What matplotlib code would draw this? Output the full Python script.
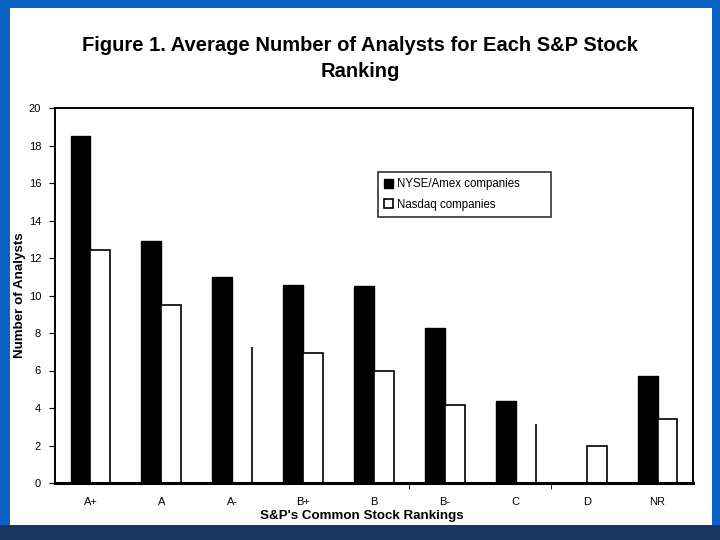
import matplotlib.pyplot as plt
from matplotlib.patches import Rectangle
import numpy as np

plt.rcParams['font.family'] = ['Liberation Sans', 'DejaVu Sans']

rankings = ['A+', 'A', 'A-', 'B+', 'B', 'B-', 'C', 'D', 'NR']
nyse_amex = [18.5, 12.9, 11.0, 10.55, 10.5, 8.25, 4.35, 0.0, 5.7]
nasdaq = [12.45, 9.5, 7.25, 6.95, 5.95, 4.15, 3.15, 2.0, 3.4]
# in the slide these two white bars lost everything but their right edge
faded = ['A-', 'C']

fig = plt.figure(figsize=(7.2, 5.4), dpi=100)
fig.patch.set_facecolor('#0b62c4')
# slide: white card on a blue frame, darker band at the bottom
fig.patches.append(Rectangle((0, 0), 1, 0.028, transform=fig.transFigure,
                             facecolor='#173763', edgecolor='none', zorder=-2))
fig.patches.append(Rectangle((10 / 720, 15 / 540), 702 / 720, 517 / 540,
                             transform=fig.transFigure, facecolor='white',
                             edgecolor='none', zorder=-1))

ax = fig.add_axes([55 / 720, 57 / 540, 638 / 720, 375 / 540])
ax.set_facecolor('white')

x = np.arange(len(rankings))
w = 0.28
b1 = ax.bar(x - w / 2, nyse_amex, w, color='black', edgecolor='black',
            linewidth=1, label='NYSE/Amex companies')
b2 = ax.bar(x + w / 2, nasdaq, w, color='white', edgecolor='black',
            linewidth=1.2, label='Nasdaq companies')
for name, rect in zip(rankings, b2):
    if name in faded:
        rect.set_visible(False)
        ax.vlines(rect.get_x() + rect.get_width(), 0, rect.get_height(),
                  color='black', lw=1.2)

ax.set_xlim(-0.5, len(rankings) - 0.5)
ax.set_ylim(0, 20)
ax.set_yticks(np.arange(0, 21, 2))
ax.set_xticks(x)
ax.set_xticklabels(rankings)
ax.tick_params(axis='x', length=0, labelsize=8, pad=10)
ax.tick_params(axis='y', length=4, direction='out', labelsize=8, pad=6)
ax.set_xticks([4.5, 6.5], minor=True)
ax.tick_params(axis='x', which='minor', length=4, direction='out')

for side in ['top', 'right', 'left']:
    ax.spines[side].set_linewidth(1.4)
ax.spines['bottom'].set_linewidth(2.2)

ax.set_xlabel("S&P's Common Stock Rankings", fontsize=9.6, fontweight='bold',
              labelpad=2)
ax.xaxis.label.set_x(0.481)
ax.set_ylabel('Number of Analysts', fontsize=9.6, fontweight='bold')
ax.yaxis.set_label_coords(-0.046, 0.5)

leg = ax.legend(loc='upper left', bbox_to_anchor=(0.506, 0.717, 0.271, 0.112),
                mode='expand', fontsize=8.3,
                frameon=True, fancybox=False, edgecolor='black',
                handlelength=0.8, handleheight=0.8, handletextpad=0.3,
                borderpad=0.55, labelspacing=0.7, borderaxespad=0)
leg.get_frame().set_linewidth(1.2)

fig.text(0.5, 0.891, 'Figure 1. Average Number of Analysts for Each S&P Stock\nRanking',
         ha='center', va='center', fontsize=14.5, fontweight='bold',
         linespacing=1.45)

fig.savefig('out.png', dpi=100, facecolor=fig.get_facecolor())
